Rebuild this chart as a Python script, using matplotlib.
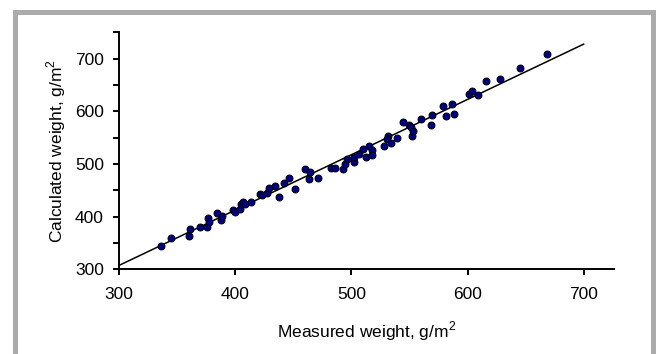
import numpy as np
import matplotlib
matplotlib.use("Agg")
import matplotlib.pyplot as plt
from matplotlib.patches import Rectangle

# measured vs calculated weight, g/m2
measured = [335.8, 344.8, 360.1, 361.0, 370.0, 375.5, 376.4, 377.5, 384.4,
            387.6, 388.5, 397.7, 399.7, 403.8, 405.2, 406.4, 408.7, 413.9,
            421.4, 422.6, 427.2, 428.6, 434.4, 437.3, 442.0, 446.0, 451.2,
            460.0, 464.3, 463.8, 471.0, 482.2, 485.9, 493.0, 494.2, 496.0,
            502.2, 502.2, 506.8, 509.7, 512.3, 515.2, 517.5, 517.5, 528.0,
            531.8, 530.9, 534.1, 539.0, 544.7, 549.9, 551.0, 552.2, 553.3,
            560.2, 568.3, 569.2, 579.2, 581.1, 586.4, 588.1, 601.0, 604.1,
            609.3, 616.2, 628.0, 645.0, 668.2]
calculated = [344.2, 358.8, 363.8, 375.8, 379.7, 379.7, 396.7, 389.8, 406.3,
              393.5, 401.7, 412.5, 408.7, 414.4, 423.9, 427.7, 423.3, 427.1,
              443.5, 441.0, 444.2, 454.9, 458.7, 437.8, 463.2, 472.7, 451.8,
              490.0, 485.0, 471.0, 473.0, 492.0, 493.0, 490.7, 500.0, 510.0,
              504.6, 514.0, 519.0, 528.7, 513.5, 534.4, 526.8, 517.3, 534.4,
              553.4, 547.0, 540.7, 549.0, 580.6, 574.3, 570.0, 553.4, 563.5,
              585.7, 574.3, 593.3, 609.1, 590.7, 614.3, 595.5, 632.0, 639.0,
              631.4, 656.7, 661.8, 682.7, 708.0]

# fitted line end points
fit_x = [300, 700]
fit_y = [307.5, 727.5]

plt.rcParams['font.family'] = ['Liberation Sans', 'DejaVu Sans']
plt.rcParams['mathtext.fontset'] = 'custom'
plt.rcParams['mathtext.rm'] = 'Liberation Sans'

fig = plt.figure(figsize=(6.56, 3.54), dpi=100)
ax = fig.add_axes([0.1817, 0.2393, 0.754, 0.6695])

# grey frame round the figure
fig.patches.append(Rectangle((15 / 656, -0.1), 637.5 / 656, 1.1 - 12.5 / 354,
                             transform=fig.transFigure, fill=False,
                             edgecolor='#ababab', linewidth=3.6))

ax.plot(fit_x, fit_y, color='black', linewidth=1.1, zorder=2)
ax.plot(measured, calculated, 'o', color='#000080', markeredgecolor='black',
        markersize=5, markeredgewidth=0.7, zorder=3)

ax.set_xlim(300, 726)
ax.set_ylim(300, 750)
ax.set_xticks([300, 400, 500, 600, 700])
ax.set_yticks([300, 400, 500, 600, 700])
ax.set_yticks([350, 450, 550, 650, 750], minor=True)

for s in ['top', 'right']:
    ax.spines[s].set_visible(False)
for s in ['left', 'bottom']:
    ax.spines[s].set_linewidth(1.4)
    ax.spines[s].set_clip_on(False)

ax.tick_params(which='both', direction='out', length=4, width=1.4,
               labelsize=12.5, color='black')
ax.tick_params(axis='x', pad=9)
ax.tick_params(axis='y', pad=7)

ax.set_xlabel('Measured weight, g/m$^\\mathregular{2}$', fontsize=12.5,
              labelpad=12)
ax.set_ylabel('Calculated weight, g/m$^\\mathregular{2}$', fontsize=12.5,
              labelpad=5)

fig.savefig('out.png', dpi=100)
